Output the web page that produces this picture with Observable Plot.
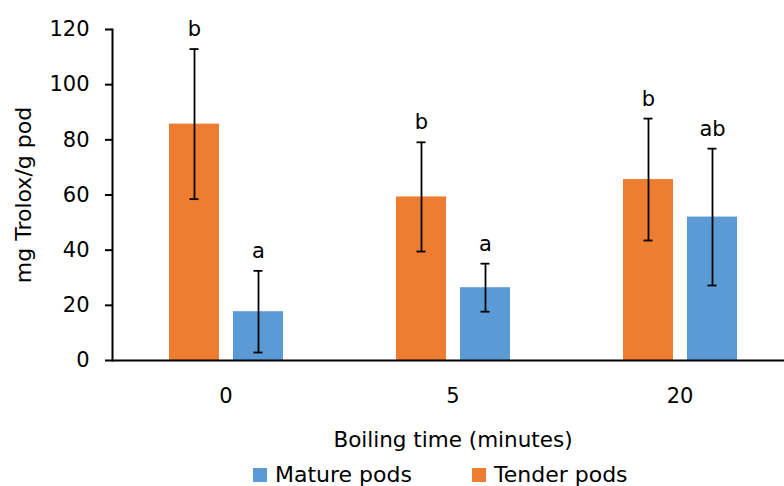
<!DOCTYPE html>
<html><head><meta charset="utf-8">
<script src="https://cdn.jsdelivr.net/npm/d3@7"></script>
<script src="https://cdn.jsdelivr.net/npm/@observablehq/plot@0.6"></script>
<style>
body{margin:0;background:#fff;overflow:hidden}
#chart svg{display:block;overflow:visible}
#legend{padding-left:253px;padding-top:3px}
#legend .lg-swatch{margin-right:60px}
#legend .lg-swatch > svg{margin-right:8px}
</style></head><body>
<div id="chart"></div><div id="legend"></div>
<script>
const times = ["0", "5", "20"];
const series = ["Tender pods", "Mature pods"];
const tenderMean = [85.7, 59.3, 65.6];
const tenderErr = [27.2, 19.8, 22.1];
const tenderLetters = ["b", "b", "b"];
const matureMean = [17.7, 26.4, 52.0];
const matureErr = [14.8, 8.7, 24.8];
const matureLetters = ["a", "a", "ab"];
const yTicks = [0, 20, 40, 60, 80, 100, 120];
const colorDomain = ["Mature pods", "Tender pods"];
const colorRange = ["#5B9BD5", "#ED7D31"];

const rows = times.flatMap((t, i) => [
  {time: t, series: "Tender pods", value: tenderMean[i], err: tenderErr[i], letter: tenderLetters[i]},
  {time: t, series: "Mature pods", value: matureMean[i], err: matureErr[i], letter: matureLetters[i]}
]);
const lo = d => d.value - d.err;
const hi = d => d.value + d.err;

const chart = Plot.plot({
  width: 784, height: 455,
  marginLeft: 111, marginRight: -10, marginTop: 29, marginBottom: 95,
  style: {fontFamily: "DejaVu Sans", fontSize: "19px", color: "#000", background: "#fff"},
  fx: {domain: times, padding: 0},
  x: {domain: series, paddingInner: 0.22, paddingOuter: 0.862, axis: null},
  y: {domain: [0, 120]},
  color: {domain: colorDomain, range: colorRange},
  marks: [
    Plot.barY(rows, {fx: "time", x: "series", y: "value", fill: "series"}),
    Plot.ruleY([0], {strokeWidth: 2}),
    Plot.ruleX(rows, {fx: "time", x: "series", y1: lo, y2: hi, strokeWidth: 1.8}),
    Plot.tickY(rows, {fx: "time", x: "series", y: lo, insetLeft: 20.5, insetRight: 20.5, strokeWidth: 1.8}),
    Plot.tickY(rows, {fx: "time", x: "series", y: hi, insetLeft: 20.5, insetRight: 20.5, strokeWidth: 1.8}),
    Plot.text(rows, {fx: "time", x: "series", y: hi, text: "letter", lineAnchor: "bottom", dy: -13, fontSize: 21}),
    Plot.axisY(yTicks, {tickSize: 7, tickPadding: 16, strokeWidth: 2, fontSize: 21, label: null}),
    Plot.axisY({ticks: [], tickSize: 0, fontSize: 22, label: "mg Trolox/g pod", labelAnchor: "center", labelOffset: 97, labelArrow: false}),
    Plot.axisFx({anchor: "bottom", tickSize: 0, tickPadding: 28, fontSize: 21, label: null}),
    Plot.axisFx({anchor: "bottom", ticks: [], tickSize: 0, fontSize: 21.5, label: "Boiling time (minutes)", labelAnchor: "center", labelOffset: 86}),
    Plot.frame({anchor: "left", facetAnchor: "left", strokeWidth: 2})
  ]
});
document.getElementById("chart").append(chart);

const legend = Plot.legend({
  color: {type: "ordinal", domain: colorDomain, range: colorRange},
  swatchSize: 14,
  className: "lg",
  style: {fontFamily: "DejaVu Sans", fontSize: "22px", color: "#000"}
});
document.getElementById("legend").append(legend);
</script>
</body></html>
